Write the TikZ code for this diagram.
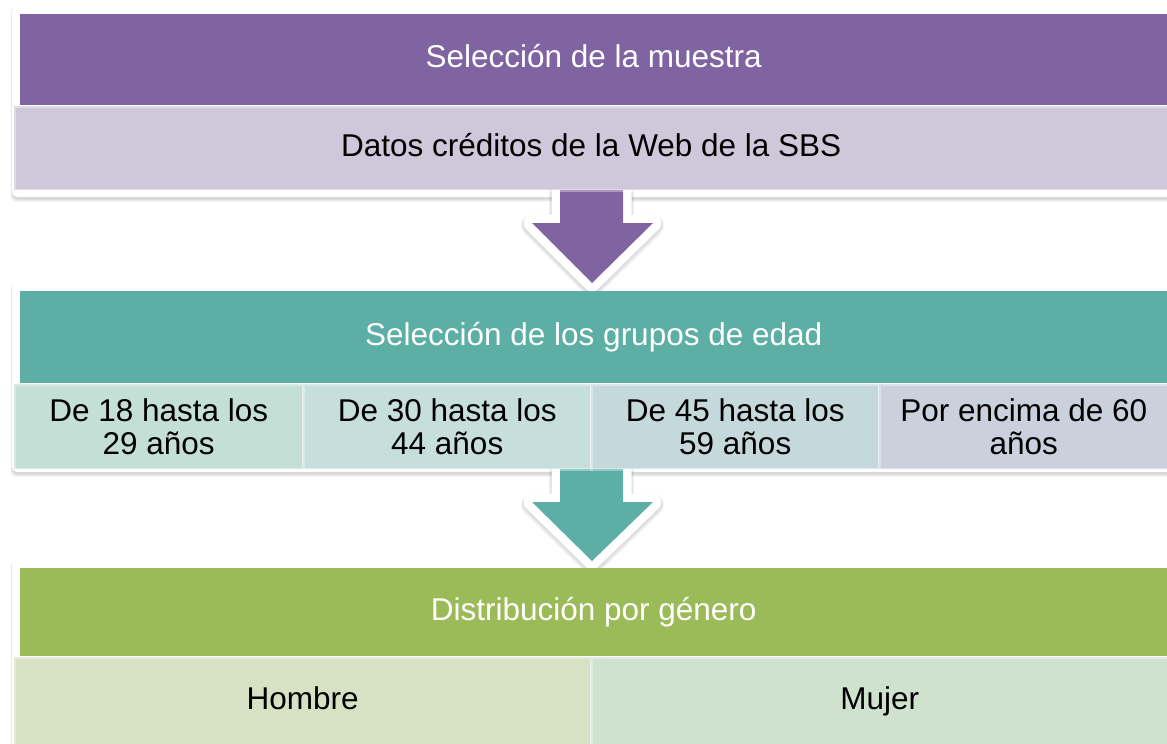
\documentclass[tikz,border=0pt]{standalone}
\usepackage{fontspec}
\setmainfont{Liberation Sans}
\definecolor{purp}{HTML}{8064A2}
\definecolor{purpL}{HTML}{CFC8DA}
\definecolor{tealH}{HTML}{5DAFA6}
\definecolor{tA}{HTML}{C4DFD5}
\definecolor{tB}{HTML}{C6DFDC}
\definecolor{tC}{HTML}{C5D8DB}
\definecolor{tD}{HTML}{CAD0DC}
\definecolor{grn}{HTML}{9BBB59}
\definecolor{gA}{HTML}{D6E2C3}
\definecolor{gB}{HTML}{CFE2CD}
\tikzset{
  header/.style={anchor=north west, inner sep=0pt, minimum width=1147pt, text=white,
    font=\fontsize{31.5}{33}\selectfont, text height=23pt, text depth=7pt},
  subbox/.style={anchor=north west, inner sep=0pt, draw=white, draw opacity=0.35, line width=2.5pt,
    align=center, font=\fontsize{31.5}{33}\selectfont, text=black},
  oneline/.style={text height=23pt, text depth=7pt},
  frame/.style={fill=white, rounded corners=5pt},
}
\newcommand{\softshadow}[4]{%
  \foreach \k in {1,...,5}{%
    \fill[black, opacity=0.035, rounded corners=6pt]
      (#1-\k*0.5+1, #2+2-\k*0.3) rectangle (#3+\k*0.5, #4+1+\k*0.8);
  }%
}
\begin{document}
\begin{tikzpicture}[x=1pt,y=-1pt]
\useasboundingbox (0,0) rectangle (1167,744);
% frames
\softshadow{12}{6}{1180}{197}
\fill[frame] (12,6) rectangle (1180,197);
\softshadow{12}{283}{1180}{472}
\fill[frame] (12,283) rectangle (1180,472);
\softshadow{12}{560}{1180}{752}
\fill[frame] (12,560) rectangle (1180,752);
% arrows
\foreach \yt/\yh/\yp/\col in {185/223/283/purp, 465/502/561/tealH}{
  \foreach \k in {1,...,4}{
    \draw[black, opacity=0.04, line width=17pt+\k*1.2pt, line join=round]
      (560,\yt) -- (560,\yh+\k*0.8) -- (532,\yh+\k*0.8) -- (592,\yp+\k*0.8)
      -- (653,\yh+\k*0.8) -- (623,\yh+\k*0.8) -- (623,\yt);
  }
  \draw[white, line width=17pt, line join=round, fill=white]
    (560,\yt) -- (560,\yh) -- (532,\yh) -- (592,\yp) -- (653,\yh) -- (623,\yh) -- (623,\yt) -- cycle;
  \fill[\col]
    (560,\yt) -- (560,\yh) -- (532,\yh) -- (592,\yp) -- (653,\yh) -- (623,\yh) -- (623,\yt) -- cycle;
}
% group 1
\node[header, fill=purp, minimum height=91pt] (h1) at (20,14) {Selección de la muestra};
\node[subbox, oneline, fill=purpL, minimum width=1154pt, minimum height=84pt] (s1) at (13,105)
  {Datos créditos de la Web de la SBS};
% group 2
\node[header, fill=tealH, minimum height=92pt] (h2) at (20,291) {Selección de los grupos de edad};
\node[subbox, fill=tA, minimum width=289pt, minimum height=85pt] (a1) at (13,383)
  {De 18 hasta los\\29 años};
\node[subbox, fill=tB, minimum width=288pt, minimum height=85pt] (a2) at (302,383)
  {De 30 hasta los\\44 años};
\node[subbox, fill=tC, minimum width=288pt, minimum height=85pt] (a3) at (590,383)
  {De 45 hasta los\\59 años};
\node[subbox, fill=tD, minimum width=289pt, minimum height=85pt] (a4) at (878,383)
  {Por encima de 60\\años};
% group 3
\node[header, fill=grn, minimum height=88pt] (h3) at (20,568) {Distribución por género};
\node[subbox, oneline, fill=gA, minimum width=577pt, minimum height=88pt] (g1) at (13,656) {Hombre};
\node[subbox, oneline, fill=gB, minimum width=577pt, minimum height=88pt] (g2) at (590,656) {Mujer};
\end{tikzpicture}
\end{document}
